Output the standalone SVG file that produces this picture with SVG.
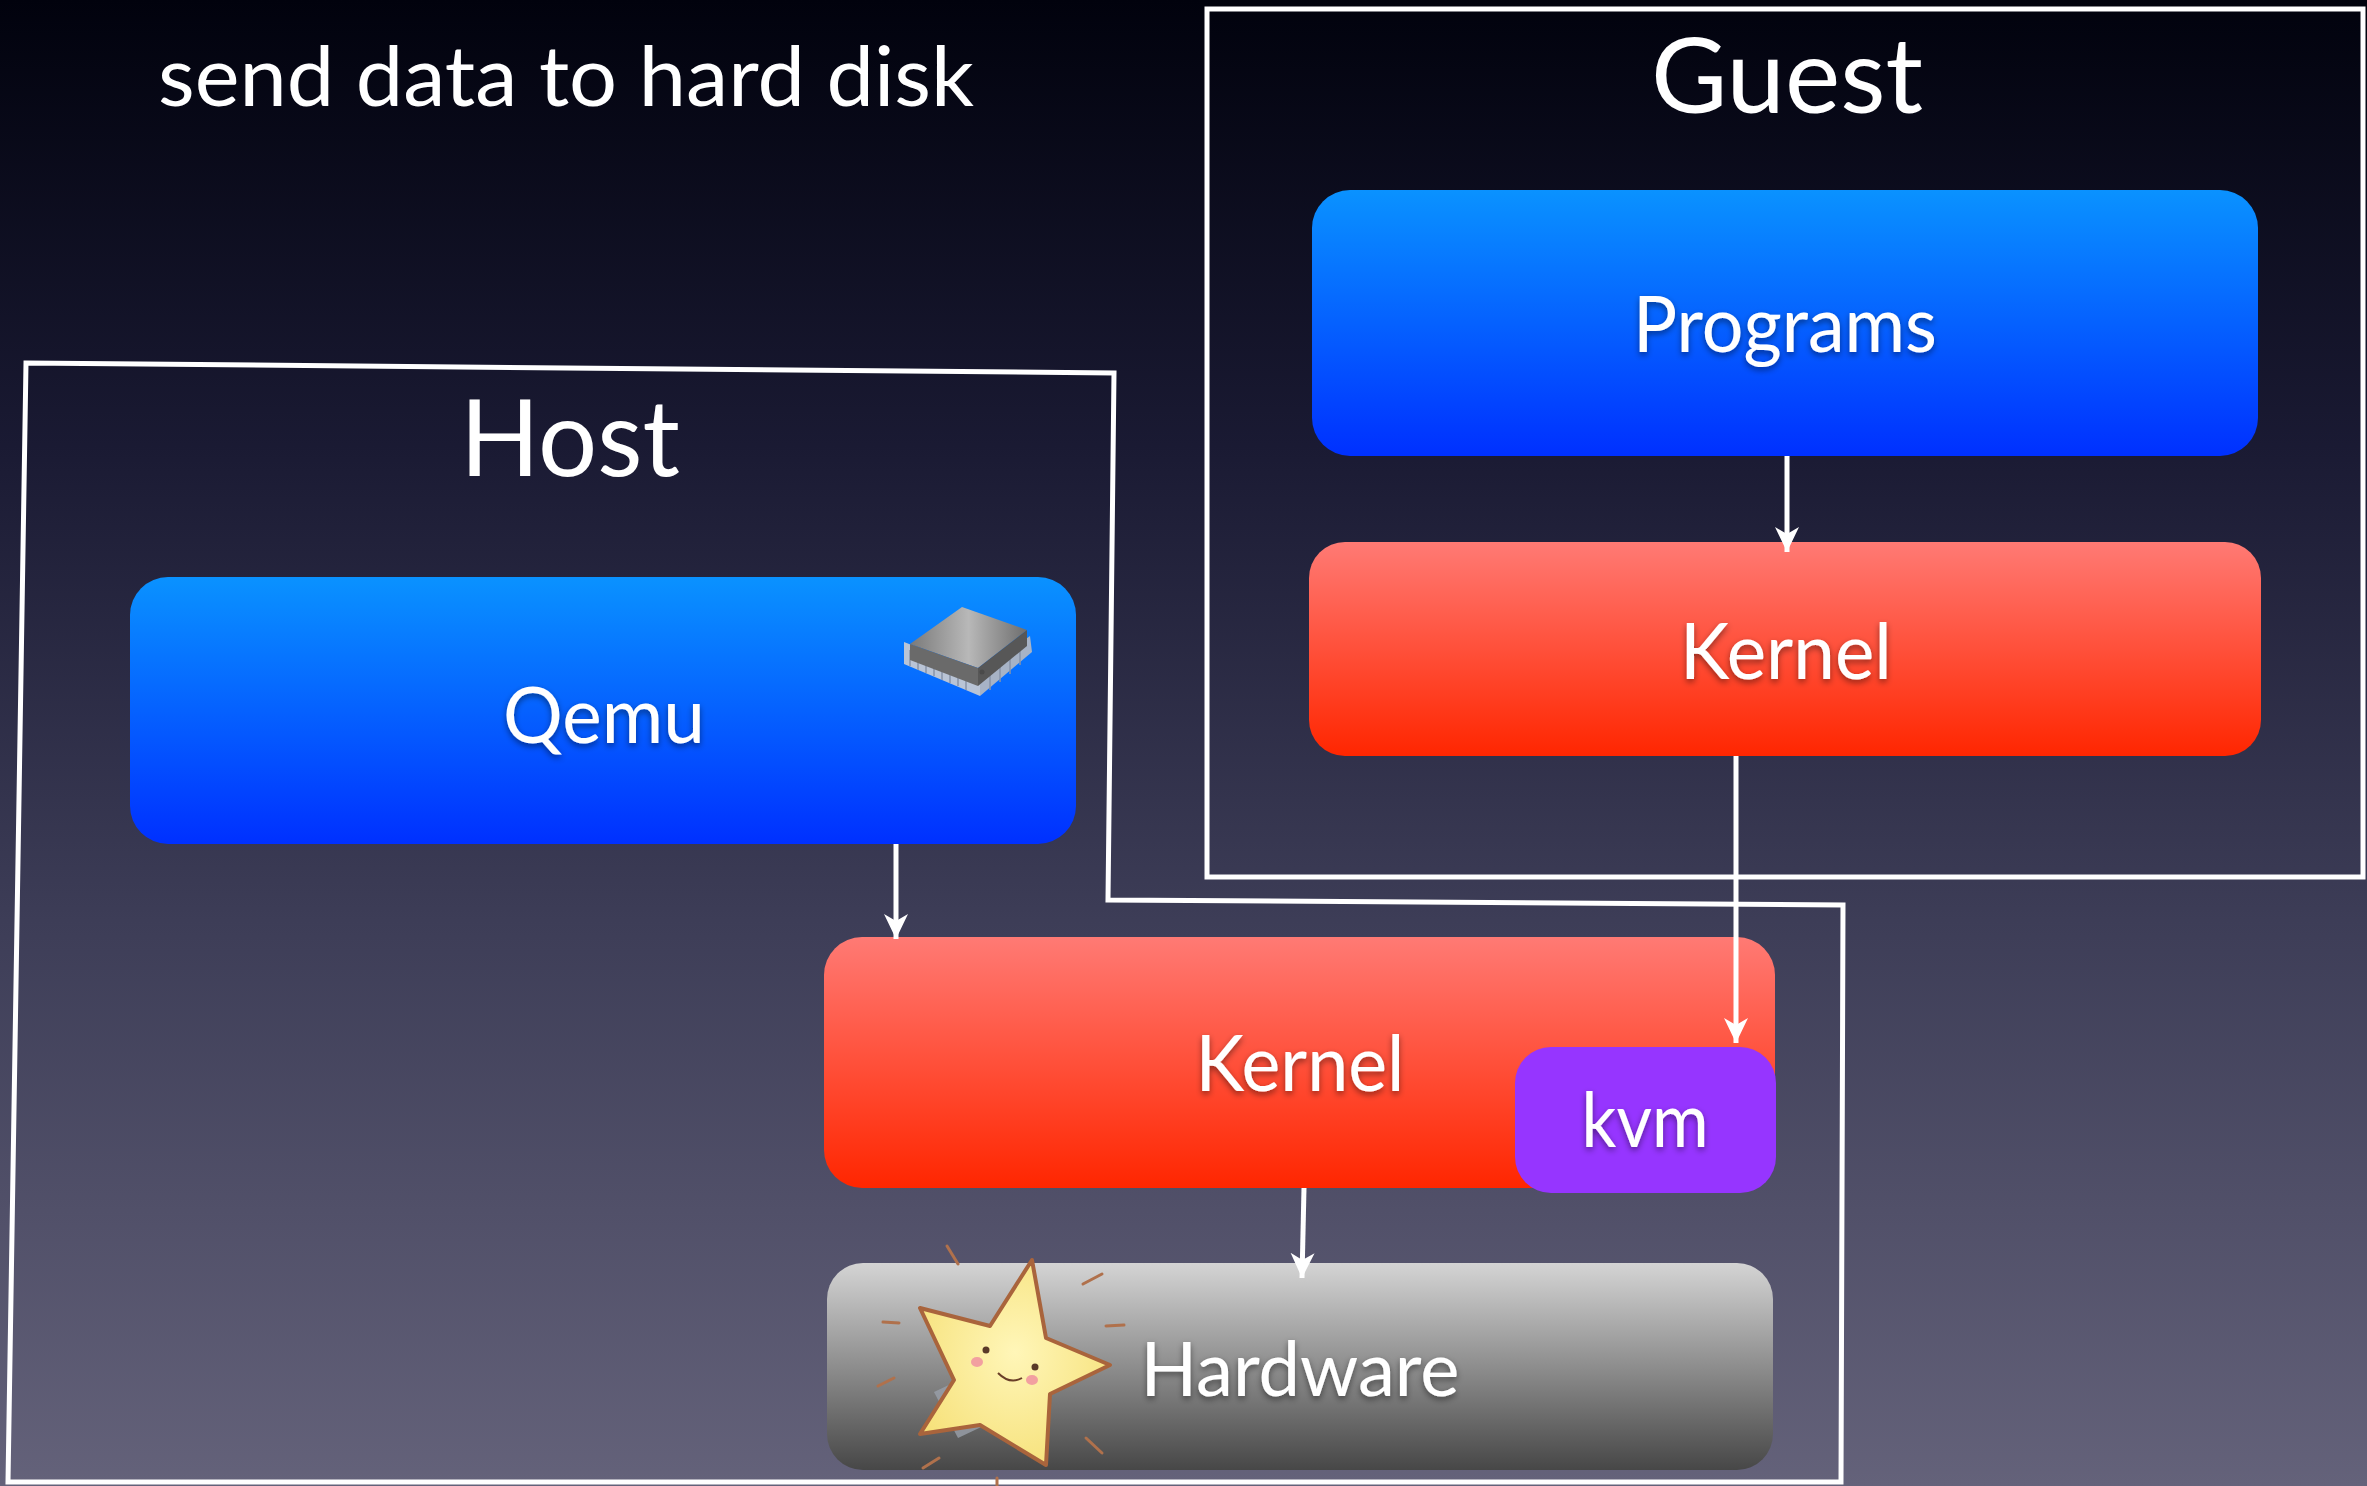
<svg xmlns="http://www.w3.org/2000/svg" width="2367" height="1486" viewBox="0 0 2367 1486">
  <defs>
    <linearGradient id="bg" x1="0" y1="0" x2="0" y2="1">
      <stop offset="0" stop-color="#01020d"/>
      <stop offset="0.3" stop-color="#1a1a33"/>
      <stop offset="0.62" stop-color="#3d3d57"/>
      <stop offset="1" stop-color="#64627a"/>
    </linearGradient>
    <linearGradient id="blue" x1="0" y1="0" x2="0" y2="1">
      <stop offset="0" stop-color="#0a92ff"/>
      <stop offset="1" stop-color="#0030ff"/>
    </linearGradient>
    <linearGradient id="red" x1="0" y1="0" x2="0" y2="1">
      <stop offset="0" stop-color="#ff7a74"/>
      <stop offset="1" stop-color="#ff2600"/>
    </linearGradient>
    <linearGradient id="gray" x1="0" y1="0" x2="0" y2="1">
      <stop offset="0" stop-color="#d4d4d4"/>
      <stop offset="1" stop-color="#474747"/>
    </linearGradient>
    <linearGradient id="chipTop" x1="0" y1="0" x2="1" y2="0">
      <stop offset="0" stop-color="#7a7a7a"/>
      <stop offset="0.5" stop-color="#b8b8b8"/>
      <stop offset="1" stop-color="#6e6e6e"/>
    </linearGradient>
    <radialGradient id="starFill" cx="0.5" cy="0.45" r="0.6">
      <stop offset="0" stop-color="#fff6b8"/>
      <stop offset="1" stop-color="#f6e17a"/>
    </radialGradient>
    <filter id="txtShadow" x="-10%" y="-20%" width="120%" height="150%">
      <feDropShadow dx="0" dy="3" stdDeviation="3" flood-color="#000" flood-opacity="0.45"/>
    </filter>
    <marker id="arrow" viewBox="0 -13 26 26" refX="25" refY="0" markerWidth="26" markerHeight="26" markerUnits="userSpaceOnUse" orient="auto">
      <path d="M0,-12 L25,0 L0,12 L7,0 Z" fill="#ffffff"/>
    </marker>
    <style>
      .lbl { font-family: Lato, "Open Sans", "Liberation Sans", sans-serif; fill: #ffffff; text-anchor: middle; }
      .node-lbl { filter: url(#txtShadow); }
      .frame { fill: none; stroke: #ffffff; stroke-width: 5; stroke-linejoin: miter; }
      .conn { fill: none; stroke: #ffffff; stroke-width: 5; marker-end: url(#arrow); }
      .spark { fill: none; stroke: #b0714c; stroke-width: 3; stroke-linecap: round; }
    </style>
  </defs>

  <!-- backdrop -->
  <rect x="0" y="0" width="2367" height="1486" fill="url(#bg)"/>

  <!-- heading -->
  <text class="lbl" x="566" y="106" font-size="84" textLength="816" lengthAdjust="spacingAndGlyphs">send data to hard disk</text>

  <!-- Guest frame -->
  <g id="guest">
    <rect class="frame" x="1207" y="9" width="1156" height="868"/>
    <text class="lbl" x="1787" y="113" font-size="104" textLength="272" lengthAdjust="spacingAndGlyphs">Guest</text>
  </g>

  <!-- Host frame -->
  <g id="host">
    <path class="frame" d="M26,363 L1114,373 L1108,900 L1843,905 L1841,1482 L8,1482 Z"/>
    <text class="lbl" x="570" y="476" font-size="106" textLength="220" lengthAdjust="spacingAndGlyphs">Host</text>
  </g>

  <!-- Guest programs -->
  <g id="programs">
    <rect x="1312" y="190" width="946" height="266" rx="38" fill="url(#blue)"/>
    <text class="lbl node-lbl" x="1785" y="352" font-size="78" textLength="304" lengthAdjust="spacingAndGlyphs">Programs</text>
  </g>

  <!-- Guest kernel -->
  <g id="guest-kernel">
    <rect x="1309" y="542" width="952" height="214" rx="36" fill="url(#red)"/>
    <text class="lbl node-lbl" x="1786" y="679" font-size="78" textLength="212" lengthAdjust="spacingAndGlyphs">Kernel</text>
  </g>

  <!-- Qemu process -->
  <g id="qemu">
    <rect x="130" y="577" width="946" height="267" rx="38" fill="url(#blue)"/>
    <text class="lbl node-lbl" x="604" y="743" font-size="78" textLength="202" lengthAdjust="spacingAndGlyphs">Qemu</text>
    <!-- chip icon -->
    <g id="chip">
      <polygon points="904,642 980,672 980,696 904,664" fill="#b9c4d6"/>
      <polygon points="980,672 1030,636 1032,652 980,696" fill="#a7b3c6"/>
      <g stroke="#8793a8" stroke-width="1.5">
        <line x1="910" y1="650" x2="910" y2="666"/>
        <line x1="918" y1="653" x2="918" y2="670"/>
        <line x1="926" y1="656" x2="926" y2="673"/>
        <line x1="934" y1="659" x2="934" y2="676"/>
        <line x1="942" y1="662" x2="942" y2="680"/>
        <line x1="950" y1="665" x2="950" y2="683"/>
        <line x1="958" y1="668" x2="958" y2="686"/>
        <line x1="966" y1="671" x2="966" y2="690"/>
        <line x1="990" y1="668" x2="990" y2="690"/>
        <line x1="1000" y1="661" x2="1000" y2="682"/>
        <line x1="1010" y1="654" x2="1010" y2="674"/>
        <line x1="1020" y1="647" x2="1020" y2="665"/>
      </g>
      <polygon points="910,644 962,607 1027,630 978,668" fill="url(#chipTop)"/>
      <polygon points="910,644 978,668 978,686 910,660" fill="#6a6a6a"/>
      <polygon points="978,668 1027,630 1027,646 978,686" fill="#575757"/>
      <circle cx="982" cy="672" r="2.5" fill="#4a4a4a"/>
    </g>
  </g>

  <!-- Host kernel with kvm module -->
  <g id="host-kernel">
    <rect x="824" y="937" width="951" height="251" rx="38" fill="url(#red)"/>
    <text class="lbl node-lbl" x="1300" y="1091" font-size="78" textLength="209" lengthAdjust="spacingAndGlyphs">Kernel</text>
  </g>
  <g id="kvm">
    <rect x="1515" y="1047" width="261" height="146" rx="36" fill="#9635ff"/>
    <text class="lbl node-lbl" x="1645" y="1147" font-size="76" textLength="127" lengthAdjust="spacingAndGlyphs">kvm</text>
  </g>

  <!-- Hardware -->
  <g id="hardware">
    <rect x="827" y="1263" width="946" height="207" rx="36" fill="url(#gray)"/>
    <polygon points="934,1392 972,1374 996,1420 958,1438" fill="#9aa0aa" opacity="0.8"/>
    <g id="star">
      <path d="M1032,1260 L1046,1338 L1110,1365 L1050,1394 L1046,1465 L980,1425 L920,1434 L954,1380 L920,1308 L990,1326 Z" fill="url(#starFill)" stroke="#a9643c" stroke-width="4" stroke-linejoin="round"/>
      <circle cx="986" cy="1350" r="3.5" fill="#5a3a28"/>
      <circle cx="1035" cy="1367" r="3.5" fill="#5a3a28"/>
      <ellipse cx="977" cy="1362" rx="6" ry="5" fill="#f2a0a0"/>
      <ellipse cx="1032" cy="1380" rx="6" ry="5" fill="#f2a0a0"/>
      <path d="M998,1373 Q1010,1385 1022,1378" fill="none" stroke="#6a3f28" stroke-width="2"/>
      <line class="spark" x1="947" y1="1246" x2="958" y2="1264"/>
      <line class="spark" x1="1083" y1="1284" x2="1102" y2="1274"/>
      <line class="spark" x1="1106" y1="1326" x2="1124" y2="1325"/>
      <line class="spark" x1="883" y1="1322" x2="899" y2="1323"/>
      <line class="spark" x1="878" y1="1386" x2="894" y2="1378"/>
      <line class="spark" x1="1086" y1="1438" x2="1102" y2="1453"/>
      <line class="spark" x1="923" y1="1468" x2="939" y2="1458"/>
      <line class="spark" x1="997" y1="1478" x2="997" y2="1486"/>
    </g>
    <text class="lbl node-lbl" x="1300" y="1396" font-size="76" textLength="319" lengthAdjust="spacingAndGlyphs">Hardware</text>
  </g>

  <!-- connectors -->
  <g id="connectors">
    <line class="conn" x1="1787" y1="456" x2="1787" y2="552"/>
    <line class="conn" x1="1736" y1="756" x2="1736" y2="1043"/>
    <line class="conn" x1="896" y1="844" x2="896" y2="939"/>
    <line class="conn" x1="1304" y1="1188" x2="1302" y2="1278"/>
  </g>
</svg>
